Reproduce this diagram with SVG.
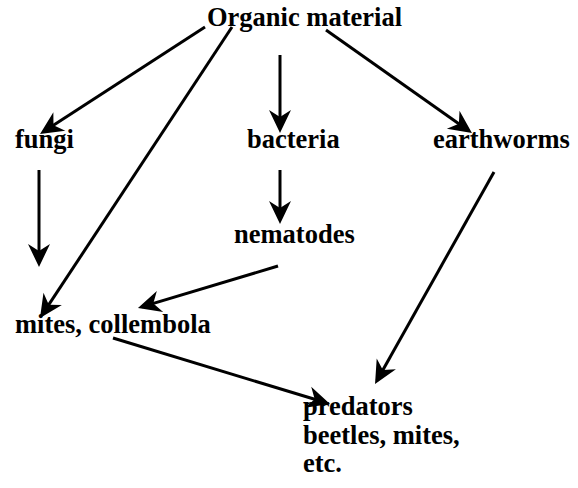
<svg xmlns="http://www.w3.org/2000/svg" width="578" height="488" viewBox="0 0 578 488">
<style>
text{font-family:"Liberation Serif","Times New Roman",serif;font-weight:bold;font-size:26.5px;fill:#000}
.c line{stroke:#000;stroke-width:3;fill:none;marker-end:url(#ah)}
</style>
<defs>
<marker id="ah" markerUnits="userSpaceOnUse" viewBox="-25 -13 27 26" refX="-4" refY="0" markerWidth="27" markerHeight="26" orient="auto">
<path d="M0,0 L-23,-11 L-16,0 L-23,11 Z" fill="#000"/>
</marker>
</defs>
<rect width="578" height="488" fill="#fff"/>
<g class="c" id="connectors">
<line x1="205" y1="27" x2="43.4" y2="131.8"/>
<line x1="232" y1="27" x2="42.2" y2="314.7"/>
<line x1="280" y1="55" x2="280" y2="129"/>
<line x1="326" y1="30" x2="468.7" y2="130.7"/>
<line x1="39" y1="170" x2="39" y2="263"/>
<line x1="280" y1="170" x2="280" y2="220"/>
<line x1="278" y1="266" x2="141.8" y2="306.9"/>
<line x1="494" y1="172" x2="377" y2="380.5"/>
<line x1="113" y1="338" x2="326.2" y2="402.8"/>
</g>
<g id="organic"><text x="207" y="26">Organic material</text></g>
<g id="fungi"><text x="15" y="148">fungi</text></g>
<g id="bacteria"><text x="247" y="148">bacteria</text></g>
<g id="earthworms"><text x="433" y="148">earthworms</text></g>
<g id="nematodes"><text x="234" y="243">nematodes</text></g>
<g id="mites"><text x="15" y="333">mites, collembola</text></g>
<g id="predators"><text x="303" y="415">predators</text><text x="303" y="444">beetles, mites,</text><text x="303" y="472">etc.</text></g>
</svg>
